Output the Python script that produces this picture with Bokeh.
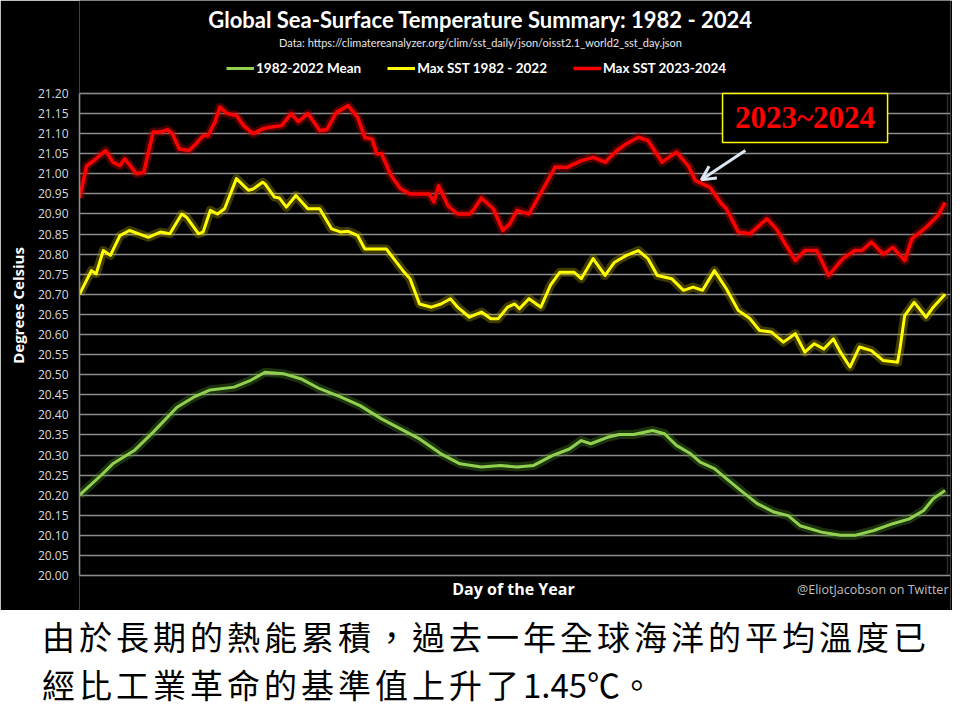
import re
from bokeh.plotting import figure
from bokeh.models import (Range1d, FixedTicker, NumeralTickFormatter, Label, Legend, LegendItem,
                          BoxAnnotation, Arrow, OpenHead, Div)
from bokeh.layouts import column
from bokeh.embed import file_html
from bokeh.resources import INLINE

# ---------------- data ----------------
title_text = "Global Sea-Surface Temperature Summary: 1982 - 2024"
subtitle_text = "Data: https://climatereanalyzer.org/clim/sst_daily/json/oisst2.1_world2_sst_day.json"
series_names = ["1982-2022 Mean", "Max SST 1982 - 2022", "Max SST 2023-2024"]
x_title = "Day of the Year"
y_title = "Degrees Celsius"

y_ticks = [20.00, 20.05, 20.10, 20.15, 20.20, 20.25, 20.30, 20.35, 20.40, 20.45, 20.50, 20.55,
           20.60, 20.65, 20.70, 20.75, 20.80, 20.85, 20.90, 20.95, 21.00, 21.05, 21.10, 21.15, 21.20]

mean_day = [1, 10, 15, 24, 32, 42, 49, 56, 66, 73, 79, 87, 94, 102, 111, 119, 128, 136, 144, 153,
            161, 170, 178, 185, 192, 200, 207, 212, 216, 223, 228, 234, 242, 247, 252, 258, 262,
            268, 273, 279, 286, 293, 299, 304, 313, 321, 327, 335, 343, 350, 356, 360, 365]
mean_sst = [20.200, 20.249, 20.278, 20.311, 20.357, 20.419, 20.444, 20.462, 20.469, 20.486, 20.506,
            20.502, 20.490, 20.465, 20.444, 20.423, 20.390, 20.365, 20.340, 20.303, 20.278, 20.270,
            20.274, 20.270, 20.274, 20.299, 20.315, 20.336, 20.328, 20.344, 20.351, 20.351, 20.361,
            20.353, 20.324, 20.303, 20.282, 20.266, 20.241, 20.212, 20.179, 20.158, 20.149, 20.124,
            20.108, 20.100, 20.100, 20.112, 20.129, 20.141, 20.162, 20.191, 20.212]

max_day = [1, 6, 8, 11, 14, 18, 22, 30, 35, 39, 44, 46, 51, 53, 56, 59, 62, 67, 72, 74, 78, 79, 83,
           85, 88, 92, 97, 102, 107, 111, 114, 118, 121, 130, 137, 140, 144, 149, 153, 157, 160,
           165, 170, 174, 177, 181, 184, 186, 190, 195, 199, 203, 209, 212, 217, 222, 226, 231,
           236, 240, 244, 250, 255, 259, 263, 268, 273, 278, 283, 287, 292, 297, 302, 306, 310,
           314, 318, 321, 325, 329, 334, 339, 345, 346, 348, 352, 357, 360, 365]
max_sst = [20.700, 20.759, 20.751, 20.809, 20.797, 20.846, 20.859, 20.842, 20.855, 20.851, 20.900,
           20.892, 20.851, 20.855, 20.909, 20.900, 20.913, 20.988, 20.959, 20.962, 20.979, 20.975,
           20.942, 20.940, 20.917, 20.946, 20.913, 20.913, 20.863, 20.855, 20.857, 20.846, 20.813,
           20.813, 20.759, 20.739, 20.676, 20.668, 20.676, 20.689, 20.668, 20.643, 20.656, 20.639,
           20.639, 20.668, 20.676, 20.664, 20.689, 20.668, 20.722, 20.755, 20.755, 20.739, 20.789,
           20.747, 20.780, 20.797, 20.809, 20.789, 20.747, 20.739, 20.710, 20.718, 20.710, 20.759,
           20.714, 20.660, 20.639, 20.610, 20.606, 20.581, 20.602, 20.556, 20.577, 20.564, 20.589,
           20.556, 20.519, 20.569, 20.560, 20.535, 20.531, 20.564, 20.647, 20.680, 20.643, 20.668,
           20.700]

recent_day = [1, 4, 7, 12, 15, 18, 20, 25, 28, 30, 32, 35, 38, 40, 43, 47, 50, 53, 55, 58, 60, 63,
              67, 70, 74, 78, 81, 86, 90, 93, 97, 102, 105, 109, 114, 118, 121, 124, 126, 128, 132,
              136, 140, 148, 150, 152, 156, 160, 165, 167, 170, 175, 179, 182, 185, 190, 196, 201,
              206, 212, 217, 222, 227, 231, 236, 240, 246, 252, 257, 260, 266, 271, 273, 278, 283,
              290, 294, 302, 306, 311, 316, 322, 327, 330, 334, 339, 343, 348, 351, 357, 362, 365]
recent_sst = [20.940, 21.020, 21.033, 21.058, 21.029, 21.020, 21.037, 21.000, 21.004, 21.054,
              21.104, 21.104, 21.110, 21.100, 21.062, 21.058, 21.075, 21.095, 21.095, 21.130,
              21.166, 21.150, 21.145, 21.120, 21.100, 21.112, 21.116, 21.120, 21.150, 21.130,
              21.150, 21.108, 21.110, 21.153, 21.170, 21.140, 21.090, 21.087, 21.050, 21.050,
              20.996, 20.963, 20.950, 20.950, 20.930, 20.970, 20.920, 20.900, 20.900, 20.913,
              20.940, 20.913, 20.859, 20.876, 20.909, 20.900, 20.963, 21.017, 21.016, 21.033,
              21.041, 21.029, 21.058, 21.075, 21.091, 21.083, 21.029, 21.054, 21.020, 20.983,
              20.967, 20.925, 20.913, 20.855, 20.851, 20.888, 20.863, 20.784, 20.809, 20.809,
              20.747, 20.789, 20.809, 20.809, 20.830, 20.800, 20.817, 20.784, 20.838, 20.867,
              20.896, 20.929]

callout_text = "2023~2024"
caption_lines = ["由於長期的熱能累積，過去一年全球海洋的平均溫度已",
                 "經比工業革命的基準值上升了1.45℃。"]
credit_text = "@EliotJacobson on Twitter"

# ---------------- chart ----------------
GRID = "#8c8c8c"
# the frame covers the whole black area so that headings and footers drawn in it are not clipped;
# the temperature box itself is 20.00-21.20 by day 1-366
p = figure(width=952, height=610, output_backend="svg", toolbar_location=None,
           x_range=Range1d(1, 367.26), y_range=Range1d(19.9129, 21.4315),
           x_axis_location=None,
           min_border_left=79, min_border_right=2, min_border_top=0, min_border_bottom=0,
           background_fill_color="black", border_fill_color="black", outline_line_color=None)

p.xgrid.visible = False
p.ygrid.grid_line_color = GRID
p.ygrid.grid_line_width = 1.5

p.yaxis.ticker = FixedTicker(ticks=y_ticks)
p.yaxis.bounds = (20.0, 21.2)
p.yaxis.formatter = NumeralTickFormatter(format="0.00")
p.yaxis.axis_line_color = GRID
p.yaxis.axis_line_width = 1.5
p.yaxis.major_tick_line_color = None
p.yaxis.minor_tick_line_color = None
p.yaxis.major_tick_out = 0
p.yaxis.minor_tick_out = 0
p.yaxis.major_label_standoff = 11
p.yaxis.major_label_text_color = "#d9d9d9"
p.yaxis.major_label_text_font = "Open Sans"
p.yaxis.major_label_text_font_size = "12px"
p.yaxis.axis_label = y_title
p.yaxis.axis_label_text_color = "white"
p.yaxis.axis_label_text_font = "Open Sans"
p.yaxis.axis_label_text_font_size = "15px"
p.yaxis.axis_label_text_font_style = "bold"
p.yaxis.axis_label_standoff = 7

# plot box (bottom and right edges)
p.add_layout(BoxAnnotation(left=1, right=366, bottom=20.0, top=21.2, fill_alpha=0,
                           line_color=GRID, line_width=1.5, level="underlay"))

# glow underlays
p.line(mean_day, mean_sst, line_color="#4f8f22", line_width=9, line_alpha=0.35, line_join="round")
p.line(max_day, max_sst, line_color="#b3a600", line_width=9, line_alpha=0.35, line_join="round")
p.line(recent_day, recent_sst, line_color="#b00000", line_width=9, line_alpha=0.4, line_join="round")
# core lines
r_mean = p.line(mean_day, mean_sst, line_color="#92d050", line_width=3, line_join="round")
r_max = p.line(max_day, max_sst, line_color="#ffff00", line_width=3, line_join="round")
r_recent = p.line(recent_day, recent_sst, line_color="#ff0000", line_width=3.5, line_join="round")

legend = Legend(items=[LegendItem(label=series_names[0], renderers=[r_mean]),
                       LegendItem(label=series_names[1], renderers=[r_max]),
                       LegendItem(label=series_names[2], renderers=[r_recent])],
                location=(147, 534), orientation="horizontal", spacing=26, padding=0, margin=0,
                glyph_width=28, glyph_height=16, label_standoff=2, label_height=16,
                background_fill_alpha=0, border_line_alpha=0,
                label_text_color="white", label_text_font="Lato",
                label_text_font_style="bold", label_text_font_size="13.5px")
p.add_layout(legend)

p.add_layout(Label(x=401, y=591, x_units="screen", y_units="screen", text=title_text,
                   text_align="center", text_baseline="middle", text_color="white",
                   text_font="Lato", text_font_style="bold", text_font_size="22px"))
p.add_layout(Label(x=401, y=568, x_units="screen", y_units="screen", text=subtitle_text,
                   text_align="center", text_baseline="middle", text_color="#e6e6e6",
                   text_font="Lato", text_font_size="11px"))
p.add_layout(Label(x=434, y=22, x_units="screen", y_units="screen", text=x_title,
                   text_align="center", text_baseline="middle", text_color="white",
                   text_font="Open Sans", text_font_style="bold", text_font_size="16px"))
p.add_layout(Label(x=869, y=21, x_units="screen", y_units="screen", text=credit_text,
                   text_align="right", text_baseline="middle", text_color="#bfbfbf",
                   text_font="Open Sans", text_font_size="12.5px"))

# callout box and arrow
p.add_layout(BoxAnnotation(left=271.4, right=340.8, top=21.2, bottom=21.078,
                           fill_color="black", fill_alpha=1.0,
                           line_color="#ffff00", line_width=1.5, line_alpha=1.0))
p.add_layout(Label(x=306.1, y=21.139, text=callout_text, text_align="center",
                   text_baseline="middle", text_color="#ff0000", text_font="Liberation Serif",
                   text_font_style="bold", text_font_size="31px"))
p.add_layout(Arrow(end=OpenHead(size=14, line_color="#dce6f2", line_width=3),
                   x_start=281, y_start=21.058, x_end=262.5, y_end=20.985,
                   line_color="#dce6f2", line_width=3))

# ---------------- caption ----------------
def compact_latin(line):
    # digits and symbols keep their natural (narrow) spacing, as in the reference
    return re.sub(r"([0-9.]+℃?)", r'<span style="letter-spacing:0">\1</span>', line)

caption_html = ("<div style=\"font-family:'Noto Sans CJK TC';font-size:33px;letter-spacing:4px;"
                "line-height:48px;color:black;margin-top:-3px;padding:0 0 0 37px;white-space:nowrap\">"
                + "<br>".join(compact_latin(t) for t in caption_lines) + "</div>")
caption = Div(text=caption_html, width=952, height=102,
              styles={"background-color": "white"})

layout = column(p, caption, spacing=0)
open("out.html", "w").write(file_html(layout, INLINE))
